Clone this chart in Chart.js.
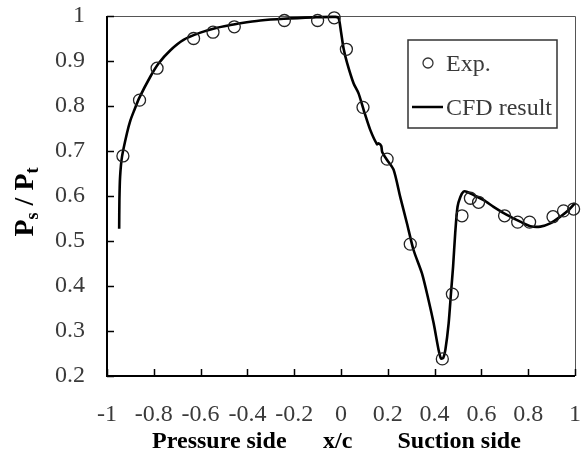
<!DOCTYPE html>
<html>
<head>
<meta charset="utf-8">
<script src="https://cdn.jsdelivr.net/npm/chart.js@4/dist/chart.umd.min.js"></script>
<style>
  html, body { margin: 0; padding: 0; background: #fff; }
  canvas { display: block; }
</style>
</head>
<body>
<canvas id="cpChart" width="587" height="452"></canvas>
<script>
// tick positions
const xTicks = [-1, -0.8, -0.6, -0.4, -0.2, 0, 0.2, 0.4, 0.6, 0.8, 1];
const yTicks = [0.2, 0.3, 0.4, 0.5, 0.6, 0.7, 0.8, 0.9, 1];

// experiment (circles)
const expX = [-0.932, -0.861, -0.786, -0.630, -0.547, -0.456, -0.242, -0.100, -0.029, 0.023,
              0.094, 0.197, 0.296, 0.433, 0.476, 0.517, 0.553, 0.588, 0.699, 0.755,
              0.806, 0.906, 0.951, 0.994];
const expY = [0.689, 0.813, 0.884, 0.950, 0.964, 0.976, 0.990, 0.990, 0.996, 0.926,
              0.797, 0.682, 0.493, 0.238, 0.382, 0.556, 0.595, 0.586, 0.556, 0.542,
              0.542, 0.554, 0.567, 0.571];

// CFD result (solid line)
const cfdX = [-0.948, -0.947, -0.944, -0.936, -0.915, -0.900, -0.884, -0.862, -0.815, -0.779,
              -0.729, -0.673, -0.601, -0.530, -0.473, -0.430, -0.345, -0.245, -0.117, -0.024,
              -0.010, 0.000, 0.011, 0.026, 0.054, 0.075, 0.097, 0.125, 0.154, 0.161,
              0.172, 0.176, 0.197, 0.225, 0.253, 0.282, 0.310, 0.346, 0.374, 0.396,
              0.417, 0.427, 0.437, 0.446, 0.460, 0.470, 0.479, 0.488, 0.498, 0.510,
              0.524, 0.540, 0.567, 0.610, 0.652, 0.709, 0.766, 0.809, 0.852, 0.894,
              0.937, 0.973, 1.000];
const cfdY = [0.527, 0.590, 0.643, 0.687, 0.739, 0.768, 0.790, 0.818, 0.865, 0.895,
              0.924, 0.947, 0.963, 0.974, 0.980, 0.984, 0.990, 0.994, 0.997, 0.998,
              0.995, 0.965, 0.928, 0.896, 0.850, 0.828, 0.791, 0.747, 0.715, 0.717,
              0.711, 0.698, 0.680, 0.658, 0.598, 0.539, 0.480, 0.428, 0.369, 0.317,
              0.258, 0.239, 0.240, 0.258, 0.317, 0.384, 0.443, 0.517, 0.576, 0.598,
              0.610, 0.609, 0.602, 0.591, 0.576, 0.558, 0.543, 0.533, 0.532, 0.539,
              0.554, 0.569, 0.584];

const SERIF = "'Liberation Serif', 'Times New Roman', serif";
const LABEL_COLOR = '#3a3a3a';

// frame, inward ticks, legend box and axis titles
const framePlugin = {
    id: 'frame',
    beforeDatasetsDraw(chart) {
        const { ctx, chartArea: a, scales: { x, y } } = chart;
        ctx.save();
        ctx.strokeStyle = '#555';
        ctx.lineWidth = 1;
        ctx.beginPath();
        ctx.moveTo(a.left, a.top + 0.5);
        ctx.lineTo(a.right + 0.5, a.top + 0.5);
        ctx.lineTo(a.right + 0.5, a.bottom);
        ctx.stroke();

        ctx.strokeStyle = '#000';
        ctx.lineWidth = 2;
        ctx.beginPath();
        ctx.moveTo(a.left, a.top);
        ctx.lineTo(a.left, a.bottom);
        ctx.lineTo(a.right, a.bottom);
        ctx.stroke();

        ctx.lineWidth = 1.5;
        ctx.beginPath();
        xTicks.forEach(v => {
            const px = Math.round(x.getPixelForValue(v)) + 0.5;
            ctx.moveTo(px, a.bottom);
            ctx.lineTo(px, a.bottom - 7);
        });
        yTicks.forEach(v => {
            const py = Math.round(y.getPixelForValue(v)) + 0.5;
            ctx.moveTo(a.left, py);
            ctx.lineTo(a.left + 7, py);
        });
        ctx.stroke();
        ctx.restore();
    },
    afterDraw(chart) {
        const { ctx, chartArea: a, scales: { x } } = chart;
        ctx.save();

        // legend
        ctx.strokeStyle = '#333';
        ctx.lineWidth = 1.5;
        ctx.strokeRect(408, 40, 149, 88);
        ctx.lineWidth = 1.3;
        ctx.beginPath();
        ctx.arc(428, 63, 5, 0, Math.PI * 2);
        ctx.stroke();
        ctx.strokeStyle = '#000';
        ctx.lineWidth = 2.5;
        ctx.beginPath();
        ctx.moveTo(412, 107);
        ctx.lineTo(443, 107);
        ctx.stroke();
        ctx.fillStyle = LABEL_COLOR;
        ctx.font = `24px ${SERIF}`;
        ctx.textBaseline = 'alphabetic';
        ctx.textAlign = 'left';
        ctx.fillText('Exp.', 446, 71);
        ctx.fillText('CFD result', 446, 115);

        // x axis titles
        ctx.fillStyle = '#000';
        ctx.font = `bold 24px ${SERIF}`;
        ctx.textAlign = 'center';
        ctx.fillText('Pressure side', x.getPixelForValue(-0.52), 448);
        ctx.fillText('x/c', x.getPixelForValue(-0.014), 448);
        ctx.fillText('Suction side', x.getPixelForValue(0.505), 448);

        // y axis title: P_s / P_t
        const big = `bold 28px ${SERIF}`;
        const small = `bold 18px ${SERIF}`;
        const parts = [
            { t: 'P', f: big, dy: 0 },
            { t: 's', f: small, dy: 5 },
            { t: ' / ', f: big, dy: 0 },
            { t: 'P', f: big, dy: 0 },
            { t: 't', f: small, dy: 5 }
        ];
        let total = 0;
        parts.forEach(p => { ctx.font = p.f; p.w = ctx.measureText(p.t).width; total += p.w; });
        ctx.translate(33, (a.top + a.bottom) / 2 + 6);
        ctx.rotate(-Math.PI / 2);
        ctx.textAlign = 'left';
        let cx = -total / 2;
        parts.forEach(p => {
            ctx.font = p.f;
            ctx.fillText(p.t, cx, p.dy);
            cx += p.w;
        });
        ctx.restore();
    }
};

const expData = expX.map((v, i) => ({ x: v, y: expY[i] }));
const cfdData = cfdX.map((v, i) => ({ x: v, y: cfdY[i] }));

new Chart(document.getElementById('cpChart'), {
    type: 'scatter',
    data: {
        datasets: [
            {
                label: 'Exp.',
                data: expData,
                showLine: false,
                pointStyle: 'circle',
                pointRadius: 6,
                pointBorderWidth: 1.3,
                pointBorderColor: '#222',
                pointBackgroundColor: 'rgba(0,0,0,0)',
                clip: false,
                order: 1
            },
            {
                label: 'CFD result',
                data: cfdData,
                showLine: true,
                borderColor: '#000',
                borderWidth: 2.6,
                pointRadius: 0,
                tension: 0.25,
                clip: false,
                order: 2
            }
        ]
    },
    options: {
        responsive: false,
        animation: false,
        layout: { padding: { left: 0, right: 12, top: 16, bottom: 0 } },
        plugins: {
            legend: { display: false },
            tooltip: { enabled: false }
        },
        scales: {
            x: {
                type: 'linear',
                min: -1,
                max: 1,
                afterBuildTicks: s => { s.ticks = xTicks.map(v => ({ value: v })); },
                afterFit: s => {
                    s.height = 76;
                    s.paddingLeft = 0;
                    s.paddingRight = 0;
                },
                grid: { display: false, drawTicks: false },
                border: { display: false },
                ticks: {
                    autoSkip: false,
                    maxRotation: 0,
                    padding: 24,
                    color: LABEL_COLOR,
                    font: { family: SERIF, size: 24 },
                    callback: v => String(v)
                }
            },
            y: {
                type: 'linear',
                min: 0.2,
                max: 1,
                afterBuildTicks: s => { s.ticks = yTicks.map(v => ({ value: v })); },
                afterFit: s => {
                    s.width = 107;
                    s.paddingTop = 0;
                    s.paddingBottom = 0;
                },
                grid: { display: false, drawTicks: false },
                border: { display: false },
                ticks: {
                    autoSkip: false,
                    padding: 22,
                    color: LABEL_COLOR,
                    font: { family: SERIF, size: 24 },
                    callback: v => String(v)
                }
            }
        }
    },
    plugins: [framePlugin]
});
</script>
</body>
</html>
